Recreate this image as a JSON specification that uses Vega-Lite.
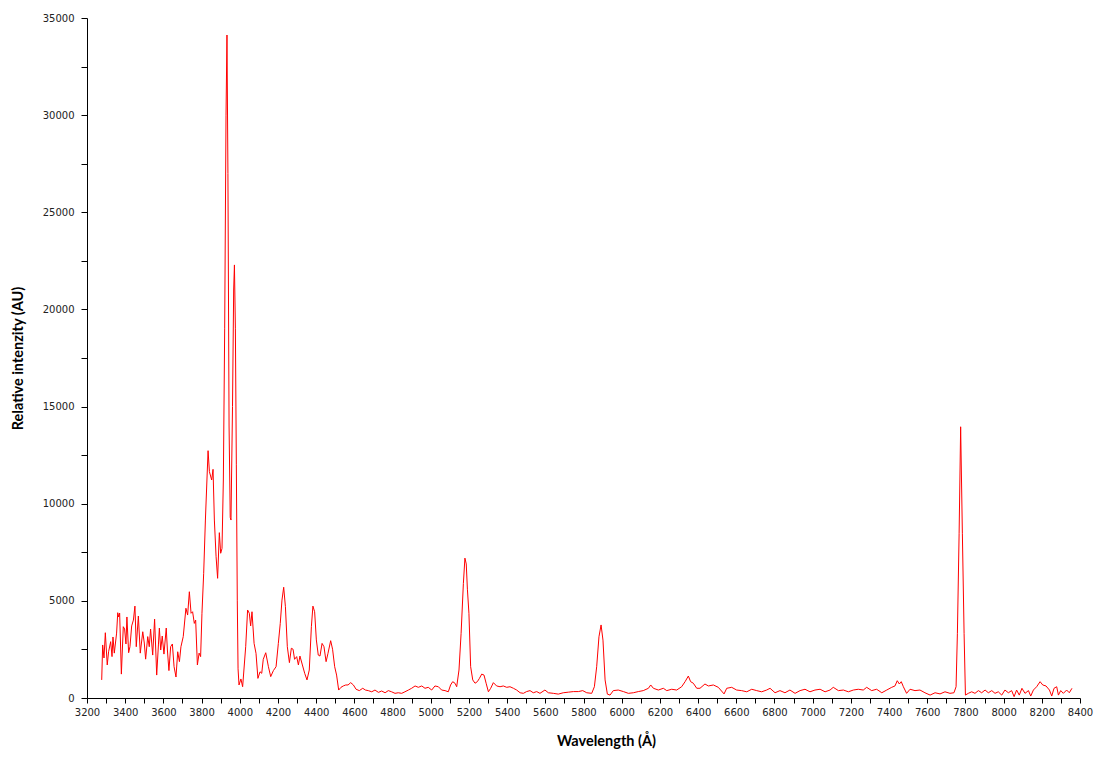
{
  "$schema": "https://vega.github.io/schema/vega-lite/v6.json",
  "autosize": {"type": "none"},
  "padding": {"left": 87, "top": 18, "right": 22, "bottom": 59},
  "width": 993,
  "height": 680,
  "background": "white",
  "config": {"view": {"stroke": null}},
  "data": {"values": [
    {"w":3277,"i":930},{"w":3282,"i":2730},{"w":3289,"i":2060},{"w":3296,"i":3360},{"w":3306,"i":1700},
    {"w":3313,"i":2380},{"w":3324,"i":2900},{"w":3331,"i":2130},{"w":3336,"i":3140},{"w":3343,"i":2310},
    {"w":3355,"i":3340},{"w":3361,"i":4390},{"w":3366,"i":4170},{"w":3371,"i":4370},{"w":3380,"i":1230},
    {"w":3390,"i":3670},{"w":3397,"i":3550},{"w":3404,"i":2780},{"w":3409,"i":4170},{"w":3418,"i":2330},
    {"w":3425,"i":2640},{"w":3434,"i":3710},{"w":3443,"i":4010},{"w":3451,"i":4730},{"w":3458,"i":2640},
    {"w":3469,"i":4220},{"w":3479,"i":2310},{"w":3492,"i":3410},{"w":3500,"i":2830},{"w":3507,"i":2000},
    {"w":3518,"i":3160},{"w":3526,"i":2640},{"w":3533,"i":3550},{"w":3544,"i":2210},{"w":3554,"i":4060},
    {"w":3565,"i":1180},{"w":3574,"i":2730},{"w":3579,"i":3600},{"w":3586,"i":2470},{"w":3594,"i":3190},
    {"w":3603,"i":2260},{"w":3615,"i":3600},{"w":3621,"i":2470},{"w":3629,"i":1410},{"w":3638,"i":2640},
    {"w":3647,"i":2780},{"w":3656,"i":1610},{"w":3666,"i":1080},{"w":3675,"i":2380},{"w":3684,"i":1870},
    {"w":3692,"i":2640},{"w":3704,"i":3160},{"w":3718,"i":4620},{"w":3727,"i":4270},{"w":3736,"i":5470},
    {"w":3745,"i":4360},{"w":3753,"i":4440},{"w":3762,"i":3840},{"w":3769,"i":4010},{"w":3778,"i":1700},
    {"w":3787,"i":2310},{"w":3795,"i":2130},{"w":3802,"i":4360},{"w":3811,"i":6420},{"w":3820,"i":9160},
    {"w":3834,"i":12730},{"w":3841,"i":11650},{"w":3853,"i":11220},{"w":3860,"i":11770},{"w":3867,"i":9160},
    {"w":3876,"i":7270},{"w":3884,"i":6160},{"w":3893,"i":8510},{"w":3900,"i":7450},{"w":3907,"i":7700},
    {"w":3914,"i":11220},{"w":3921,"i":19000},{"w":3928,"i":30000},{"w":3933,"i":34125},{"w":3938,"i":27000},
    {"w":3944,"i":14000},{"w":3950,"i":9300},{"w":3954,"i":9160},{"w":3962,"i":15000},{"w":3968,"i":21000},
    {"w":3972,"i":22290},{"w":3977,"i":19000},{"w":3982,"i":12000},{"w":3987,"i":5000},{"w":3991,"i":1500},
    {"w":3996,"i":670},{"w":4006,"i":980},{"w":4015,"i":580},{"w":4031,"i":2640},{"w":4041,"i":4530},
    {"w":4050,"i":4360},{"w":4057,"i":3710},{"w":4064,"i":4440},{"w":4075,"i":2810},{"w":4085,"i":2300},
    {"w":4095,"i":1010},{"w":4106,"i":1350},{"w":4115,"i":1270},{"w":4123,"i":1990},{"w":4136,"i":2330},
    {"w":4150,"i":1610},{"w":4162,"i":1100},{"w":4176,"i":1410},{"w":4190,"i":1610},{"w":4202,"i":2810},
    {"w":4212,"i":3840},{"w":4221,"i":5040},{"w":4230,"i":5700},{"w":4239,"i":4700},{"w":4249,"i":2640},
    {"w":4260,"i":1820},{"w":4270,"i":2560},{"w":4279,"i":2510},{"w":4287,"i":1990},{"w":4298,"i":2130},
    {"w":4307,"i":1700},{"w":4315,"i":2160},{"w":4328,"i":1700},{"w":4340,"i":1270},{"w":4352,"i":930},
    {"w":4364,"i":1440},{"w":4375,"i":3670},{"w":4383,"i":4730},{"w":4392,"i":4440},{"w":4401,"i":2990},
    {"w":4411,"i":2210},{"w":4420,"i":2160},{"w":4431,"i":2810},{"w":4441,"i":2640},{"w":4452,"i":1870},
    {"w":4462,"i":2300},{"w":4476,"i":2950},{"w":4486,"i":2510},{"w":4497,"i":1610},{"w":4507,"i":1180},
    {"w":4518,"i":410},{"w":4530,"i":550},{"w":4542,"i":620},{"w":4555,"i":670},{"w":4567,"i":670},
    {"w":4581,"i":790},{"w":4595,"i":670},{"w":4609,"i":450},{"w":4626,"i":380},{"w":4644,"i":500},
    {"w":4658,"i":410},{"w":4673,"i":380},{"w":4691,"i":320},{"w":4708,"i":410},{"w":4726,"i":290},
    {"w":4743,"i":360},{"w":4761,"i":270},{"w":4778,"i":380},{"w":4795,"i":320},{"w":4813,"i":240},
    {"w":4830,"i":270},{"w":4848,"i":240},{"w":4865,"i":320},{"w":4883,"i":410},{"w":4900,"i":500},
    {"w":4918,"i":620},{"w":4935,"i":550},{"w":4953,"i":620},{"w":4970,"i":500},{"w":4987,"i":550},
    {"w":5005,"i":410},{"w":5022,"i":620},{"w":5040,"i":580},{"w":5057,"i":410},{"w":5075,"i":380},
    {"w":5092,"i":320},{"w":5104,"i":670},{"w":5115,"i":840},{"w":5127,"i":760},{"w":5136,"i":580},
    {"w":5148,"i":1440},{"w":5159,"i":3330},{"w":5171,"i":5900},{"w":5179,"i":7200},{"w":5186,"i":6900},
    {"w":5192,"i":5600},{"w":5200,"i":4360},{"w":5209,"i":1610},{"w":5220,"i":930},{"w":5232,"i":760},
    {"w":5244,"i":840},{"w":5255,"i":1010},{"w":5267,"i":1230},{"w":5279,"i":1180},{"w":5290,"i":760},
    {"w":5302,"i":320},{"w":5314,"i":500},{"w":5328,"i":790},{"w":5345,"i":620},{"w":5363,"i":580},
    {"w":5380,"i":620},{"w":5398,"i":550},{"w":5415,"i":580},{"w":5433,"i":500},{"w":5450,"i":410},
    {"w":5468,"i":270},{"w":5485,"i":240},{"w":5502,"i":330},{"w":5520,"i":380},{"w":5537,"i":270},
    {"w":5555,"i":330},{"w":5572,"i":240},{"w":5598,"i":410},{"w":5616,"i":270},{"w":5642,"i":240},
    {"w":5668,"i":200},{"w":5694,"i":270},{"w":5721,"i":300},{"w":5747,"i":330},{"w":5773,"i":330},
    {"w":5796,"i":380},{"w":5817,"i":270},{"w":5843,"i":240},{"w":5857,"i":580},{"w":5869,"i":1610},
    {"w":5881,"i":3150},{"w":5892,"i":3760},{"w":5902,"i":2980},{"w":5913,"i":930},{"w":5925,"i":200},
    {"w":5939,"i":150},{"w":5956,"i":380},{"w":5982,"i":410},{"w":6009,"i":330},{"w":6035,"i":240},
    {"w":6061,"i":270},{"w":6087,"i":330},{"w":6113,"i":380},{"w":6140,"i":500},{"w":6152,"i":670},
    {"w":6166,"i":500},{"w":6192,"i":410},{"w":6218,"i":500},{"w":6236,"i":380},{"w":6262,"i":450},
    {"w":6288,"i":410},{"w":6314,"i":580},{"w":6332,"i":840},{"w":6349,"i":1130},{"w":6361,"i":840},
    {"w":6375,"i":760},{"w":6393,"i":500},{"w":6410,"i":500},{"w":6436,"i":720},{"w":6454,"i":620},
    {"w":6480,"i":670},{"w":6506,"i":550},{"w":6536,"i":210},{"w":6550,"i":500},{"w":6576,"i":550},
    {"w":6602,"i":410},{"w":6628,"i":380},{"w":6655,"i":320},{"w":6681,"i":450},{"w":6707,"i":380},
    {"w":6733,"i":320},{"w":6759,"i":410},{"w":6777,"i":500},{"w":6803,"i":270},{"w":6829,"i":380},
    {"w":6855,"i":270},{"w":6881,"i":410},{"w":6908,"i":240},{"w":6934,"i":380},{"w":6960,"i":450},
    {"w":6986,"i":320},{"w":7012,"i":410},{"w":7039,"i":450},{"w":7065,"i":320},{"w":7091,"i":410},
    {"w":7108,"i":550},{"w":7135,"i":380},{"w":7161,"i":410},{"w":7187,"i":320},{"w":7213,"i":410},
    {"w":7239,"i":450},{"w":7265,"i":410},{"w":7283,"i":550},{"w":7309,"i":380},{"w":7335,"i":450},
    {"w":7362,"i":270},{"w":7388,"i":410},{"w":7414,"i":550},{"w":7431,"i":620},{"w":7443,"i":890},
    {"w":7454,"i":720},{"w":7464,"i":840},{"w":7475,"i":580},{"w":7492,"i":240},{"w":7510,"i":450},
    {"w":7536,"i":380},{"w":7562,"i":410},{"w":7588,"i":270},{"w":7615,"i":150},{"w":7641,"i":270},
    {"w":7667,"i":210},{"w":7693,"i":320},{"w":7719,"i":240},{"w":7740,"i":270},{"w":7751,"i":580},
    {"w":7758,"i":3330},{"w":7767,"i":8480},{"w":7775,"i":13960},{"w":7784,"i":8480},{"w":7793,"i":3330},
    {"w":7800,"i":150},{"w":7815,"i":240},{"w":7833,"i":320},{"w":7850,"i":240},{"w":7868,"i":380},
    {"w":7885,"i":270},{"w":7903,"i":410},{"w":7920,"i":270},{"w":7938,"i":380},{"w":7955,"i":240},
    {"w":7972,"i":320},{"w":7990,"i":150},{"w":8007,"i":410},{"w":8025,"i":270},{"w":8042,"i":380},
    {"w":8055,"i":70},{"w":8068,"i":410},{"w":8082,"i":150},{"w":8096,"i":500},{"w":8112,"i":240},
    {"w":8130,"i":380},{"w":8142,"i":100},{"w":8156,"i":410},{"w":8173,"i":580},{"w":8191,"i":840},
    {"w":8205,"i":670},{"w":8222,"i":620},{"w":8240,"i":410},{"w":8252,"i":100},{"w":8264,"i":500},
    {"w":8278,"i":580},{"w":8287,"i":150},{"w":8299,"i":380},{"w":8313,"i":240},{"w":8330,"i":410},
    {"w":8344,"i":270},{"w":8358,"i":500}
  ]},
  "mark": {"type": "line", "color": "#ff0000", "strokeWidth": 1, "interpolate": "linear"},
  "encoding": {
    "x": {
      "field": "w", "type": "quantitative",
      "scale": {"domain": [3200, 8400], "nice": false, "zero": false},
      "axis": {
        "title": "Wavelength (Å)",
        "values": [3200,3300,3400,3500,3600,3700,3800,3900,4000,4100,4200,4300,4400,4500,4600,4700,4800,4900,5000,5100,5200,5300,5400,5500,5600,5700,5800,5900,6000,6100,6200,6300,6400,6500,6600,6700,6800,6900,7000,7100,7200,7300,7400,7500,7600,7700,7800,7900,8000,8100,8200,8300,8400],
        "format": "d",
        "labelExpr": "datum.value % 200 === 0 ? datum.label : ''",
        "grid": false,
        "domainColor": "#000000", "tickColor": "#000000",
        "tickSize": 5, "labelPadding": 4,
        "labelFont": "DejaVu Sans", "labelFontSize": 10, "labelColor": "#222222",
        "labelOverlap": false, "labelFlush": false,
        "titleFont": "Lato", "titleFontSize": 14.5, "titleFontWeight": "bold", "titleColor": "#000000",
        "titleX": 519, "titleY": 43, "titleAlign": "center", "titleBaseline": "middle"
      }
    },
    "y": {
      "field": "i", "type": "quantitative",
      "scale": {"domain": [0, 35000], "nice": false},
      "axis": {
        "title": "Relative intenzity (AU)",
        "values": [0,2500,5000,7500,10000,12500,15000,17500,20000,22500,25000,27500,30000,32500,35000],
        "format": "d",
        "labelExpr": "datum.value % 5000 === 0 ? datum.label : ''",
        "grid": false,
        "domainColor": "#000000", "tickColor": "#000000",
        "tickSize": 6, "labelPadding": 7,
        "labelFont": "DejaVu Sans", "labelFontSize": 10, "labelColor": "#222222",
        "labelOverlap": false, "labelFlush": false,
        "titleFont": "Lato", "titleFontSize": 14.5, "titleFontWeight": "bold", "titleColor": "#000000",
        "titleX": -69, "titleY": 340, "titleAlign": "center", "titleBaseline": "middle", "titleAngle": -90
      }
    }
  }
}
